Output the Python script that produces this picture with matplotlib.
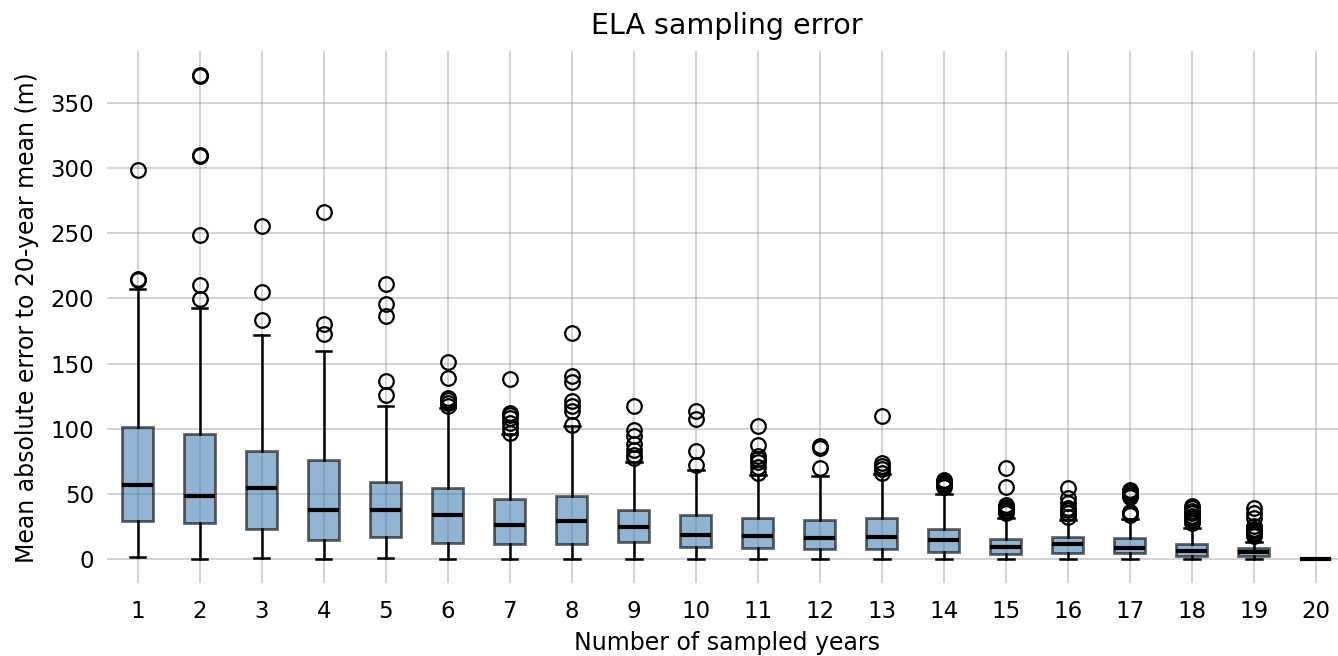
import matplotlib
matplotlib.use('Agg')
import matplotlib.pyplot as plt

# number of sampled years (1..20)
years = list(range(1, 21))

# box statistics (metres)
whislo = [1.5, 0.5, 1.0, 0.0, 0.8, 0.0, 0.0, 0.0, 0.0, 0.0,
          0.0, 0.0, 0.0, 0.0, 0.0, 0.0, 0.0, 0.0, 0.0, 0.0]
q1 = [29.5, 27.5, 23.3, 15.0, 16.8, 12.3, 11.8, 11.5, 13.0, 9.7,
      8.2, 7.7, 7.7, 5.4, 4.1, 4.6, 4.4, 2.6, 2.3, 0.0]
med = [57.0, 48.2, 54.7, 37.6, 37.6, 33.6, 26.4, 29.4, 24.8, 18.7,
       17.4, 15.9, 16.7, 14.4, 9.5, 11.3, 8.2, 6.4, 5.5, 0.0]
q3 = [101.3, 95.6, 82.9, 75.9, 58.8, 54.8, 46.4, 48.1, 37.9, 34.1,
      31.8, 30.2, 31.8, 23.3, 15.4, 16.9, 15.9, 11.8, 8.7, 0.0]
whishi = [207.0, 192.7, 171.8, 159.6, 117.1, 116.0, 96.3, 101.9, 74.3, 68.1,
          64.3, 63.5, 65.1, 49.7, 31.8, 30.0, 30.5, 24.1, 13.3, 0.0]
fliers = [
    [214.0, 215.0, 298.7],
    [199.5, 210.4, 248.4, 309.0, 309.6, 370.5, 371.0],
    [183.7, 205.2, 255.4],
    [172.5, 180.3, 266.3],
    [126.2, 136.8, 186.5, 195.3, 210.9],
    [117.5, 119.8, 121.9, 123.7, 139.0, 151.3],
    [96.8, 100.6, 104.5, 108.3, 110.5, 112.2, 138.5],
    [102.7, 113.4, 117.8, 121.1, 136.0, 140.3, 173.1],
    [77.6, 80.2, 83.5, 88.6, 94.2, 98.8, 117.3],
    [72.2, 83.0, 107.6, 113.4],
    [66.0, 70.7, 74.3, 76.8, 78.9, 87.3, 102.0],
    [69.7, 85.3, 86.6],
    [66.4, 69.0, 71.5, 74.1, 109.5],
    [55.5, 56.5, 57.5, 58.5, 60.0, 61.0],
    [35.1, 36.5, 37.7, 39.0, 40.3, 41.5, 55.6, 69.7],
    [32.6, 35.6, 37.5, 39.0, 42.8, 47.2, 54.4],
    [33.8, 35.5, 36.4, 48.0, 49.2, 50.5, 51.8, 53.0],
    [27.9, 30.0, 31.3, 33.0, 35.1, 37.0, 39.0, 40.8],
    [17.5, 19.0, 20.3, 21.5, 22.5, 23.5, 25.4, 31.3, 35.4, 39.5],
    [],
]

stats = []
for i in range(len(years)):
    stats.append({'whislo': whislo[i], 'q1': q1[i], 'med': med[i],
                  'q3': q3[i], 'whishi': whishi[i], 'fliers': fliers[i],
                  'label': str(years[i])})

fig = plt.figure(figsize=(13.38, 6.56), dpi=100)
ax = fig.add_axes([0.0797, 0.1108, 0.927, 0.8115])

bp = ax.bxp(stats, positions=years, widths=0.5, patch_artist=True,
            boxprops=dict(facecolor='steelblue', edgecolor='black',
                          linewidth=2.0, alpha=0.6),
            medianprops=dict(color='black', linewidth=3.0),
            whiskerprops=dict(color='black', linewidth=1.8),
            capprops=dict(color='black', linewidth=1.8),
            flierprops=dict(marker='o', markerfacecolor='none',
                            markeredgecolor='black', markersize=10.5,
                            markeredgewidth=1.6))

ax.set_xlim(0.5, 20.5)
ax.set_ylim(-18.5, 389.6)
ax.set_yticks([0, 50, 100, 150, 200, 250, 300, 350])
ax.grid(True, color='gray', alpha=0.4, linewidth=1.2)
ax.set_axisbelow(True)
for s in ax.spines.values():
    s.set_visible(False)
ax.tick_params(length=0, labelsize=16.5, pad=9)
ax.tick_params(axis='x', pad=12)

ax.set_title('ELA sampling error', fontsize=20.5, pad=12)
ax.set_xlabel('Number of sampled years', fontsize=17, labelpad=6)
ax.set_ylabel('Mean absolute error to 20-year mean (m)', fontsize=17,
              labelpad=8)

fig.savefig('out.png', dpi=100)
